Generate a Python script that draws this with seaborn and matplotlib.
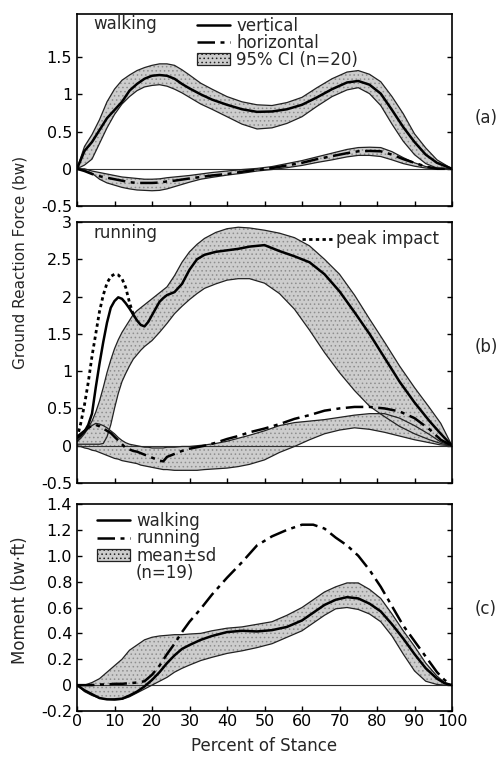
import numpy as np
import matplotlib
matplotlib.use("Agg")
import matplotlib.pyplot as plt
import seaborn as sns
from matplotlib.lines import Line2D
from matplotlib.patches import Patch

# ---- data (percent of stance) ----
# (a) walking ground reaction force
xa = [0, 2, 4, 6, 8, 10, 12, 14, 16, 18, 20, 22, 24, 26, 28, 30, 33, 36, 40, 44,
      48, 52, 56, 60, 64, 68, 72, 75, 78, 81, 84, 87, 90, 93, 96, 100]
walk_vert = [0.0, 0.24, 0.36, 0.52, 0.68, 0.79, 0.9, 1.05, 1.14, 1.21, 1.25, 1.26, 1.25, 1.21,
             1.14, 1.08, 1.0, 0.93, 0.86, 0.8, 0.765, 0.77, 0.8, 0.86, 0.96, 1.07, 1.16, 1.18,
             1.13, 1.01, 0.79, 0.56, 0.36, 0.19, 0.08, 0.0]
walk_vert_hi = [0.0, 0.3, 0.46, 0.66, 0.9, 1.07, 1.19, 1.26, 1.32, 1.36, 1.39, 1.41, 1.41, 1.39,
                1.33, 1.26, 1.15, 1.07, 0.97, 0.9, 0.86, 0.85, 0.89, 0.96, 1.09, 1.21, 1.3, 1.32,
                1.27, 1.17, 0.97, 0.74, 0.47, 0.28, 0.12, 0.0]
walk_vert_lo = [0.0, 0.05, 0.13, 0.34, 0.55, 0.73, 0.87, 0.97, 1.05, 1.1, 1.12, 1.13, 1.11, 1.07,
                1.02, 0.96, 0.87, 0.8, 0.7, 0.6, 0.535, 0.55, 0.61, 0.7, 0.84, 0.97, 1.06, 1.09,
                1.01, 0.85, 0.6, 0.37, 0.19, 0.07, 0.01, 0.0]
walk_horz = [0.0, -0.03, -0.07, -0.1, -0.12, -0.14, -0.16, -0.18, -0.19, -0.19, -0.19, -0.185,
             -0.17, -0.16, -0.145, -0.13, -0.11, -0.09, -0.07, -0.04, -0.015, 0.01, 0.045, 0.08,
             0.13, 0.17, 0.21, 0.235, 0.24, 0.235, 0.19, 0.13, 0.08, 0.03, 0.0, 0.0]
walk_horz_hi = [0.0, 0.0, -0.03, -0.05, -0.07, -0.09, -0.11, -0.12, -0.13, -0.14, -0.14, -0.135,
                -0.12, -0.11, -0.1, -0.09, -0.07, -0.05, -0.03, -0.01, 0.005, 0.03, 0.07, 0.11,
                0.16, 0.21, 0.26, 0.285, 0.29, 0.285, 0.23, 0.15, 0.08, 0.03, 0.005, 0.0]
walk_horz_lo = [0.0, -0.02, -0.06, -0.14, -0.19, -0.22, -0.25, -0.27, -0.285, -0.29, -0.295,
                -0.29, -0.27, -0.24, -0.21, -0.18, -0.14, -0.115, -0.085, -0.06, -0.03, -0.01,
                0.015, 0.045, 0.085, 0.12, 0.16, 0.18, 0.18, 0.165, 0.12, 0.07, 0.035, 0.01,
                0.0, 0.0]

# (b) running ground reaction force
xb = [0, 1, 2, 3, 4, 5, 6, 7, 8, 9, 10, 11, 12, 13, 14, 15, 16, 17, 18, 19, 20, 22, 23, 24,
      26, 28, 30, 32, 34, 37, 40, 43, 46, 50, 54, 58, 62, 66, 70, 74, 78, 82, 86, 90, 94, 97, 100]
run_vert = [0.1, 0.14, 0.19, 0.28, 0.43, 0.78, 1.1, 1.39, 1.65, 1.85, 1.94, 1.99, 1.97, 1.91,
            1.84, 1.76, 1.68, 1.62, 1.6, 1.66, 1.75, 1.93, 1.98, 2.02, 2.06, 2.17, 2.36, 2.5,
            2.56, 2.6, 2.62, 2.64, 2.67, 2.69, 2.61, 2.54, 2.46, 2.3, 2.07, 1.79, 1.5, 1.18,
            0.86, 0.58, 0.33, 0.16, 0.0]
run_vert_hi = [0.05, 0.1, 0.16, 0.24, 0.33, 0.45, 0.6, 0.78, 0.98, 1.15, 1.3, 1.42, 1.52, 1.6,
               1.68, 1.76, 1.81, 1.85, 1.89, 1.93, 1.97, 2.05, 2.09, 2.13, 2.28, 2.46, 2.6, 2.7,
               2.78, 2.86, 2.91, 2.93, 2.92, 2.89, 2.85, 2.79, 2.68, 2.5, 2.3, 2.02, 1.7, 1.39,
               1.07, 0.78, 0.51, 0.3, 0.0]
run_vert_lo = [0.02, 0.02, 0.02, 0.02, 0.02, 0.02, 0.02, 0.03, 0.12, 0.28, 0.5, 0.7, 0.86,
               0.97, 1.07, 1.16, 1.22, 1.28, 1.33, 1.37, 1.41, 1.52, 1.58, 1.64, 1.77, 1.87,
               1.96, 2.04, 2.11, 2.17, 2.22, 2.24, 2.24, 2.18, 2.04, 1.83, 1.55, 1.25, 0.98,
               0.74, 0.53, 0.39, 0.26, 0.16, 0.08, 0.03, 0.0]
x_peak = [0, 1, 2, 3, 4, 5, 6, 7, 8, 9, 10, 11, 12, 13, 14, 15]
run_peak = [0.1, 0.3, 0.55, 0.85, 1.2, 1.5, 1.8, 2.02, 2.18, 2.27, 2.3, 2.29, 2.24, 2.12, 1.92,
            1.76]
run_horz = [0.12, 0.16, 0.2, 0.24, 0.27, 0.28, 0.26, 0.23, 0.2, 0.17, 0.12, 0.07, 0.02, -0.03,
            -0.05, -0.07, -0.08, -0.1, -0.12, -0.14, -0.16, -0.2, -0.21, -0.15, -0.11, -0.07,
            -0.04, -0.02, 0.0, 0.04, 0.09, 0.13, 0.18, 0.23, 0.29, 0.36, 0.41, 0.47, 0.5, 0.52,
            0.52, 0.5, 0.46, 0.37, 0.22, 0.08, 0.0]
run_horz_hi = [0.06, 0.12, 0.18, 0.23, 0.27, 0.3, 0.29, 0.27, 0.24, 0.2, 0.16, 0.11, 0.07, 0.04,
               0.02, 0.01, 0.0, -0.01, -0.02, -0.02, -0.03, -0.03, -0.03, -0.02, -0.02, -0.01,
               -0.01, 0.0, 0.01, 0.03, 0.06, 0.1, 0.14, 0.2, 0.27, 0.31, 0.33, 0.35, 0.38, 0.41,
               0.43, 0.43, 0.37, 0.27, 0.15, 0.05, 0.0]
run_horz_lo = [0.0, -0.01, -0.03, -0.04, -0.06, -0.07, -0.09, -0.11, -0.13, -0.15, -0.17, -0.18,
               -0.2, -0.21, -0.22, -0.23, -0.24, -0.26, -0.27, -0.28, -0.29, -0.31, -0.32, -0.32,
               -0.33, -0.33, -0.33, -0.33, -0.32, -0.31, -0.3, -0.28, -0.25, -0.19, -0.09, -0.01,
               0.08, 0.16, 0.21, 0.24, 0.22, 0.18, 0.13, 0.08, 0.04, 0.01, 0.0]

# (c) moment
xc = [0, 2, 4, 6, 8, 10, 12, 14, 16, 18, 20, 22, 24, 26, 28, 30, 33, 36, 40, 44, 48, 52, 56,
      60, 63, 66, 69, 72, 75, 78, 81, 84, 87, 90, 93, 96, 98, 100]
mom_walk = [0.0, -0.04, -0.07, -0.1, -0.11, -0.11, -0.105, -0.08, -0.05, -0.01, 0.04, 0.1, 0.17,
            0.23, 0.28, 0.31, 0.35, 0.38, 0.41, 0.42, 0.415, 0.425, 0.45, 0.5, 0.56, 0.62, 0.66,
            0.68, 0.67, 0.63, 0.57, 0.47, 0.36, 0.24, 0.13, 0.05, 0.015, 0.0]
mom_walk_hi = [0.0, 0.0, 0.02, 0.05, 0.1, 0.15, 0.2, 0.27, 0.31, 0.35, 0.37, 0.38, 0.385, 0.39,
               0.39, 0.395, 0.4, 0.42, 0.44, 0.45, 0.47, 0.49, 0.54, 0.6, 0.66, 0.72, 0.76,
               0.79, 0.79, 0.74, 0.67, 0.55, 0.42, 0.3, 0.17, 0.07, 0.02, 0.0]
mom_walk_lo = [0.0, -0.05, -0.08, -0.1, -0.11, -0.115, -0.11, -0.09, -0.06, -0.03, 0.0, 0.03,
               0.06, 0.1, 0.13, 0.155, 0.19, 0.215, 0.245, 0.265, 0.29, 0.32, 0.37, 0.42, 0.48,
               0.54, 0.59, 0.6, 0.585, 0.55, 0.49, 0.38, 0.24, 0.11, 0.03, 0.005, 0.0, 0.0]
mom_run = [0.0, 0.0, 0.0, 0.005, 0.005, 0.01, 0.01, 0.015, 0.02, 0.03, 0.08, 0.15, 0.24, 0.32,
           0.41, 0.49, 0.59, 0.7, 0.83, 0.95, 1.08, 1.15, 1.2, 1.24, 1.24, 1.21, 1.14, 1.08,
           1.0, 0.89, 0.76, 0.61, 0.46, 0.34, 0.22, 0.1, 0.04, 0.0]

xticks = list(range(0, 101, 10))

sns.set_theme(style="ticks")
plt.rcParams["font.family"] = ["DejaVu Sans"]
plt.rcParams["axes.unicode_minus"] = False
plt.rcParams["hatch.linewidth"] = 0.6

DASHDOT = (0, (7, 2.2, 1.6, 2.2))
DOTTED = (0, (1.2, 1.2))
FILL = "#cdcdcd"
HATCH_C = "#8e8e8e"


def band(ax, x, lo, hi):
    ax.fill_between(x, lo, hi, facecolor=FILL, edgecolor=HATCH_C, hatch="....", lw=0, zorder=1)
    sns.lineplot(x=x, y=lo, ax=ax, color="#222222", lw=0.9, estimator=None, zorder=2)
    sns.lineplot(x=x, y=hi, ax=ax, color="#222222", lw=0.9, estimator=None, zorder=2)


def mean_line(ax, x, y, ls="-", lw=1.8):
    sns.lineplot(x=x, y=y, ax=ax, color="black", lw=lw, linestyle=ls, estimator=None, zorder=3)


def style_axes(ax, ylim, yticks, ylabels, show_x):
    ax.set_xlim(0, 100)
    ax.set_ylim(*ylim)
    ax.set_xticks(xticks)
    ax.set_yticks(yticks)
    ax.set_yticklabels(ylabels)
    ax.axhline(0, color="#333333", lw=0.8, zorder=1.5)
    ax.tick_params(direction="in", length=3.5, width=1, right=True, top=False,
                   labelsize=11.5, pad=3.5, colors="black")
    ax.tick_params(axis="x", labelbottom=show_x, pad=2)
    for s in ax.spines.values():
        s.set_visible(True)
        s.set_color("black")
        s.set_linewidth(1.2)
    ax.set_facecolor("white")
    ax.set_xlabel("")
    ax.set_ylabel("")


fig = plt.figure(figsize=(5.01, 7.61), dpi=100)
W, H = 501, 761
ax_a = fig.add_axes([77 / W, 1 - 206 / H, 375 / W, 192 / H])
ax_b = fig.add_axes([77 / W, 1 - 483 / H, 375 / W, 261 / H])
ax_c = fig.add_axes([77 / W, 1 - 711 / H, 375 / W, 207 / H])

# (a) walking
band(ax_a, xa, walk_vert_lo, walk_vert_hi)
band(ax_a, xa, walk_horz_lo, walk_horz_hi)
mean_line(ax_a, xa, walk_vert)
mean_line(ax_a, xa, walk_horz, ls=DASHDOT)
style_axes(ax_a, (-0.5, 2.08), [-0.5, 0, 0.5, 1, 1.5], ["-0.5", "0", "0.5", "1", "1.5"], False)
ax_a.text(0.043, 0.948, "walking", transform=ax_a.transAxes, fontsize=12, va="center")
h_a = [Line2D([], [], color="black", lw=1.8),
       Line2D([], [], color="black", lw=1.8, linestyle=DASHDOT),
       Patch(facecolor=FILL, edgecolor="#222222", hatch="....", lw=0.9)]
ax_a.legend(h_a, ["vertical", "horizontal", "95% CI (n=20)"], loc="upper left",
            bbox_to_anchor=(0.32, 0.985), frameon=False, fontsize=12, handlelength=2.0,
            handletextpad=0.35, labelspacing=-0.06, borderpad=0, borderaxespad=0)

# (b) running
band(ax_b, xb, run_horz_lo, run_horz_hi)
band(ax_b, xb, run_vert_lo, run_vert_hi)
mean_line(ax_b, x_peak, run_peak, ls=DOTTED, lw=2.0)
mean_line(ax_b, xb, run_vert)
mean_line(ax_b, xb, run_horz, ls=DASHDOT)
style_axes(ax_b, (-0.5, 3.0), [-0.5, 0, 0.5, 1, 1.5, 2, 2.5, 3],
           ["-0.5", "0", "0.5", "1", "1.5", "2", "2.5", "3"], False)
ax_b.text(0.043, 0.958, "running", transform=ax_b.transAxes, fontsize=12, va="center")
ax_b.legend([Line2D([], [], color="black", lw=2.0, linestyle=DOTTED)], ["peak impact"],
            loc="upper left", bbox_to_anchor=(0.6, 0.968), frameon=False, fontsize=12,
            handlelength=1.8, handletextpad=0.25, borderpad=0, borderaxespad=0)

# (c) moment
band(ax_c, xc, mom_walk_lo, mom_walk_hi)
mean_line(ax_c, xc, mom_walk)
mean_line(ax_c, xc, mom_run, ls=DASHDOT)
style_axes(ax_c, (-0.2, 1.4), [-0.2, 0, 0.2, 0.4, 0.6, 0.8, 1.0, 1.2, 1.4],
           ["-0.2", "0", "0.2", "0.4", "0.6", "0.8", "1.0", "1.2", "1.4"], True)
ax_c.set_xticklabels([str(t) for t in xticks])
ax_c.set_xlabel("Percent of Stance", fontsize=12, labelpad=6)
h_c = [Line2D([], [], color="black", lw=1.8),
       Line2D([], [], color="black", lw=1.8, linestyle=DASHDOT),
       Patch(facecolor=FILL, edgecolor="#222222", hatch="....", lw=0.9),
       Line2D([], [], color="none")]
ax_c.legend(h_c, ["walking", "running", "mean\u00b1sd", "(n=19)"], loc="upper left",
            bbox_to_anchor=(0.053, 0.962), frameon=False, fontsize=12, handlelength=2.0,
            handletextpad=0.35, labelspacing=-0.03, borderpad=0, borderaxespad=0)

# shared labels
fig.text(20 / W, 1 - 262 / H, "Ground Reaction Force (bw)", rotation=90, ha="center",
         va="center", fontsize=11)
fig.text(20 / W, 1 - 600 / H, "Moment (bw\u00b7ft)", rotation=90, ha="center", va="center",
         fontsize=12)
fig.text(486 / W, 1 - 118 / H, "(a)", ha="center", va="center", fontsize=12)
fig.text(486 / W, 1 - 347 / H, "(b)", ha="center", va="center", fontsize=12)
fig.text(486 / W, 1 - 609 / H, "(c)", ha="center", va="center", fontsize=12)

fig.savefig("out.png", dpi=100)
